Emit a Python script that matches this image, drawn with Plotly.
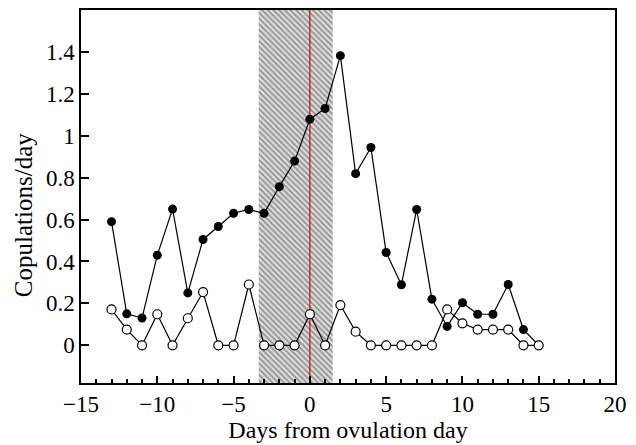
import plotly.graph_objects as go

days = list(range(-13, 16))
filled = [0.59, 0.15, 0.13, 0.43, 0.65, 0.25, 0.505, 0.567, 0.63, 0.648, 0.63,
          0.757, 0.879, 1.079, 1.13, 1.382, 0.819, 0.944, 0.443, 0.289, 0.648,
          0.22, 0.09, 0.203, 0.148, 0.148, 0.29, 0.075, 0.0]
open_ = [0.171, 0.075, 0.0, 0.148, 0.0, 0.129, 0.254, 0.0, 0.0, 0.29, 0.0,
         0.0, 0.0, 0.148, 0.0, 0.192, 0.065, 0.0, 0.0, 0.0, 0.0,
         0.0, 0.171, 0.105, 0.075, 0.075, 0.075, 0.0, 0.0]
shade_x = [-3.35, 1.5]
yr = [-0.18, 1.6]
xr = [-15, 20]
x_ticks = [-15, -10, -5, 0, 5, 10, 15, 20]
y_ticks = [0, 0.2, 0.4, 0.6, 0.8, 1, 1.2, 1.4]
y_labels = ["0", "0.2", "0.4", "0.6", "0.8", "1", "1.2", "1.4"]
x_title = "Days from ovulation day"
y_title = "Copulations/day"

font = "Liberation Serif"
fig = go.Figure()
fig.add_trace(go.Scatter(
    x=[shade_x[0], shade_x[1], shade_x[1], shade_x[0], shade_x[0]],
    y=[yr[0], yr[0], yr[1], yr[1], yr[0]],
    mode="lines", line=dict(width=0), fill="toself",
    fillcolor="rgba(0,0,0,0)",
    fillpattern=dict(shape="\\", size=4, solidity=0.45, fgcolor="#444444", bgcolor="#dddddd"),
    hoverinfo="skip", showlegend=False))
fig.add_trace(go.Scatter(x=[0, 0], y=yr, mode="lines",
                         line=dict(color="#dd0000", width=1.2), showlegend=False))
fig.add_trace(go.Scatter(x=days, y=filled, mode="lines+markers",
                         line=dict(color="black", width=1.2),
                         marker=dict(symbol="circle", size=9, color="black"),
                         showlegend=False))
fig.add_trace(go.Scatter(x=days, y=open_, mode="lines+markers",
                         line=dict(color="black", width=1.2),
                         marker=dict(symbol="circle", size=9, color="white",
                                     line=dict(color="black", width=1.2)),
                         showlegend=False))

fig.add_annotation(text=y_title, textangle=-90, xref="paper", yref="paper",
                   x=0, y=0.45, xanchor="center", yanchor="middle", xshift=-58,
                   showarrow=False, font=dict(family=font, size=25, color="black"))

fig.update_layout(
    width=628, height=437,
    margin=dict(l=73, r=21, t=2, b=62, autoexpand=False),
    paper_bgcolor="white", plot_bgcolor="white",
    font=dict(family=font, size=23, color="black"),
    xaxis=dict(range=xr, tickvals=x_ticks, ticks="inside", ticklen=7, tickwidth=1.5,
               tickcolor="black", showgrid=False, zeroline=False, automargin=False,
               showline=True, linecolor="black", linewidth=1.5, mirror=True,
               minor=dict(dtick=1, ticks="inside", ticklen=4, tickwidth=1.5, tickcolor="black"),
               title=dict(text=x_title, font=dict(size=24), standoff=2),
               tickfont=dict(size=23)),
    yaxis=dict(range=yr, tickvals=y_ticks, ticktext=y_labels, ticks="inside", ticklen=8,
               tickwidth=1.5, tickcolor="black", showgrid=False, zeroline=False,
               automargin=False,
               showline=True, linecolor="black", linewidth=1.5, mirror=True,
               tickfont=dict(size=23)),
)
fig.write_html("out.html")
